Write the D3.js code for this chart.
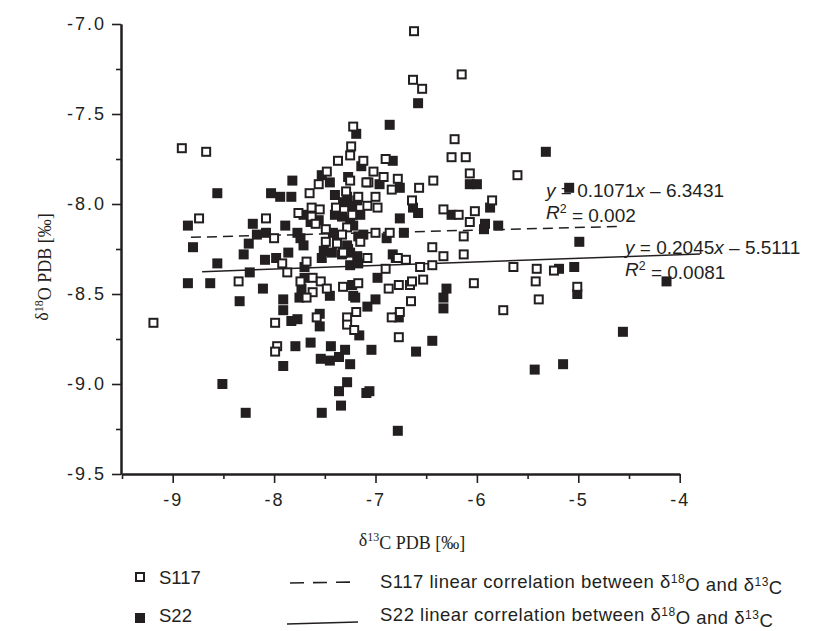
<!DOCTYPE html>
<html>
<head>
<meta charset="utf-8">
<script src="https://cdn.jsdelivr.net/npm/d3@7"></script>
<style>
  html, body { margin: 0; padding: 0; background: #fff; }
  svg { display: block; }
  .tick text { font-family: "Liberation Sans", Arial, sans-serif; }
</style>
</head>
<body>
<svg id="chart" width="820" height="631"></svg>
<script>
// ---------------- DATA ----------------
// S117 (open squares): [δ13C, δ18O]
const s117Points = [
  [-8.91,-7.69],[-8.67,-7.71],[-8.74,-8.08],[-9.19,-8.66],[-8.35,-8.43],[-8.08,-8.08],[-8.00,-8.19],
  [-6.62,-7.04],[-6.63,-7.31],[-6.54,-7.36],[-6.15,-7.28],
  [-7.22,-7.57],[-7.24,-7.68],[-7.25,-7.73],[-7.37,-7.76],[-7.12,-7.76],[-7.02,-7.82],[-7.07,-7.88],
  [-7.48,-7.82],[-7.56,-7.89],[-7.25,-7.87],[-7.65,-7.94],[-7.29,-7.93],[-7.17,-7.96],[-7.00,-7.96],
  [-6.98,-8.02],[-7.39,-8.02],[-7.63,-8.02],[-7.55,-8.03],[-7.76,-8.05],[-7.63,-8.07],[-7.08,-8.01],
  [-7.23,-8.06],[-7.59,-8.11],[-7.28,-8.13],[-7.49,-8.14],[-7.33,-8.17],[-7.00,-8.16],[-7.49,-8.21],
  [-7.38,-8.22],[-7.15,-8.21],
  [-6.22,-7.64],[-6.25,-7.74],[-6.11,-7.74],[-6.90,-7.75],[-6.92,-7.85],[-6.78,-7.86],[-6.43,-7.87],
  [-6.57,-7.91],[-6.07,-7.83],[-5.60,-7.84],[-6.84,-7.92],[-6.64,-7.98],[-6.33,-8.03],[-6.18,-8.06],
  [-6.02,-8.04],[-6.07,-8.10],[-5.85,-7.98],[-6.13,-8.18],[-6.44,-8.24],[-6.86,-8.16],[-7.09,-7.88],
  [-7.92,-8.33],[-7.87,-8.38],[-7.68,-8.32],[-7.74,-8.43],[-7.62,-8.41],[-7.54,-8.43],[-7.48,-8.47],
  [-7.62,-8.49],[-7.68,-8.52],[-7.08,-8.30],[-7.32,-8.46],[-7.17,-8.44],[-7.99,-8.66],[-7.58,-8.63],
  [-7.19,-8.60],[-7.28,-8.63],[-7.28,-8.67],[-7.21,-8.70],[-7.97,-8.79],[-7.99,-8.82],
  [-6.70,-8.31],[-6.78,-8.30],[-6.33,-8.29],[-6.13,-8.28],[-6.90,-8.36],[-6.56,-8.35],[-6.44,-8.34],
  [-6.87,-8.47],[-6.77,-8.45],[-6.66,-8.45],[-6.64,-8.43],[-6.53,-8.42],[-6.03,-8.44],[-6.65,-8.54],
  [-6.76,-8.60],[-6.84,-8.63],[-5.74,-8.59],[-6.77,-8.74],
  [-5.64,-8.35],[-5.41,-8.36],[-5.24,-8.37],[-5.42,-8.43],[-5.39,-8.53],[-5.01,-8.46],[-7.32,-8.27]
];
// S22 (filled squares): [δ13C, δ18O]
const s22Points = [
  [-8.56,-7.94],[-8.85,-8.12],[-7.82,-7.87],[-8.03,-7.94],[-7.94,-7.96],[-7.83,-7.96],[-8.21,-8.11],
  [-7.89,-8.12],[-8.17,-8.17],[-8.08,-8.16],[-8.25,-8.22],[-7.77,-8.16],[-7.74,-8.19],[-7.71,-8.23],
  [-7.19,-7.61],[-7.14,-7.79],[-7.53,-7.84],[-7.45,-7.88],[-7.27,-7.85],[-7.40,-7.95],[-7.28,-7.96],
  [-7.32,-7.99],[-7.23,-8.01],[-7.18,-7.98],[-7.71,-8.06],[-7.64,-8.10],[-7.40,-8.06],[-7.33,-8.07],
  [-7.25,-8.09],[-7.15,-8.06],[-7.56,-8.09],[-7.22,-8.12],[-7.42,-8.16],[-7.38,-8.18],[-7.17,-8.18],
  [-7.12,-8.17],[-7.28,-8.23],
  [-6.58,-7.44],[-6.86,-7.56],[-6.83,-7.76],[-5.32,-7.71],[-4.99,-8.21],[-5.09,-7.91],[-6.76,-7.91],
  [-6.96,-7.89],[-6.07,-7.89],[-6.00,-7.89],[-6.63,-8.02],[-6.58,-8.05],[-6.25,-8.06],[-5.87,-8.02],
  [-5.92,-8.11],[-5.93,-8.14],[-5.79,-8.12],[-6.76,-8.08],[-6.72,-8.16],[-6.89,-8.19],
  [-8.80,-8.24],[-8.56,-8.33],[-8.85,-8.44],[-8.63,-8.44],[-8.34,-8.54],[-8.51,-9.00],[-8.28,-9.16],
  [-8.24,-8.38],[-8.09,-8.31],[-7.98,-8.30],[-7.86,-8.27],[-8.30,-8.28],[-8.11,-8.47],[-7.91,-8.53],
  [-7.91,-8.59],[-7.83,-8.65],[-7.77,-8.64],[-7.91,-8.90],[-7.79,-8.79],[-7.64,-8.77],[-7.54,-8.86],
  [-7.45,-8.87],[-7.44,-8.79],[-7.36,-8.85],[-7.30,-8.81],[-7.25,-8.89],[-7.28,-8.99],[-7.36,-9.04],
  [-7.34,-9.12],[-7.53,-9.16],[-7.55,-8.61],[-7.55,-8.68],[-7.70,-8.35],[-7.70,-8.41],[-7.73,-8.47],
  [-7.75,-8.52],[-7.45,-8.51],
  [-7.51,-8.26],[-7.43,-8.27],[-7.53,-8.30],[-7.25,-8.27],[-7.18,-8.29],[-7.25,-8.34],[-7.17,-8.33],
  [-6.98,-8.41],[-7.23,-8.45],[-7.22,-8.51],[-7.20,-8.52],[-7.00,-8.53],[-7.08,-8.57],[-7.16,-8.73],
  [-7.04,-8.81],[-7.09,-9.05],[-7.06,-9.04],[-6.83,-8.28],[-6.80,-8.30],[-6.30,-8.47],[-6.33,-8.52],
  [-6.33,-8.58],[-6.77,-8.63],[-6.44,-8.76],[-6.60,-8.82],[-6.78,-9.26],[-5.43,-8.92],[-5.15,-8.89],
  [-5.19,-8.36],[-5.04,-8.35],[-5.01,-8.50],[-4.13,-8.43],[-4.56,-8.71],[-7.33,-8.28],[-7.27,-8.25]
];
// Trend lines as drawn (endpoints in data units)
const s117Trend = [[-8.82,-8.185],[-4.60,-8.125]];
const s22Trend  = [[-8.71,-8.376],[-3.80,-8.278]];
// Axis ticks
const xMajorTicks = [-9,-8,-7,-6,-5,-4];
const xMinorTicks = [-9.5,-8.5,-7.5,-6.5,-5.5,-4.5];
const yMajorTicks = [-9.5,-9.0,-8.5,-8.0,-7.5,-7.0];
const yMinorTicks = [-9.25,-8.75,-8.25,-7.75,-7.25];
// Annotations
const eqS117 = ["y", " = 0.1071", "x", " \u2013 6.3431"];
const r2S117 = "0.002";
const eqS22  = ["y", " = 0.2045", "x", " \u2013 5.5111"];
const r2S22  = "0.0081";

// ---------------- CHART ----------------
const svg = d3.select("#chart");
const ink = "#231f20";
const x = d3.scaleLinear().domain([-9.5, -4]).range([122, 679.7]);
const y = d3.scaleLinear().domain([-9.5, -7]).range([474, 24]);
const sans = '"Liberation Sans", Arial, Helvetica, sans-serif';
const serif = '"Liberation Serif", "Times New Roman", serif';

const fmtY = d => d.toFixed(1);
const fmtX = d => String(d);

svg.append("g").attr("transform", `translate(${x(-9.5) - 1},0)`)
  .call(d3.axisLeft(y).tickValues(yMajorTicks).tickSize(9).tickSizeOuter(0).tickPadding(6).tickFormat(fmtY));
svg.append("g").attr("transform", `translate(${x(-9.5) - 1},0)`)
  .call(d3.axisLeft(y).tickValues(yMinorTicks).tickSize(5).tickSizeOuter(0).tickFormat(""));
const xAx = svg.append("g").attr("transform", `translate(0,${y(-9.5)})`)
  .call(d3.axisBottom(x).tickValues(xMajorTicks).tickSize(9).tickSizeOuter(0).tickPadding(6).tickFormat(fmtX));
svg.append("g").attr("transform", `translate(0,${y(-9.5)})`)
  .call(d3.axisBottom(x).tickValues(xMinorTicks).tickSize(5).tickSizeOuter(0).tickFormat(""));

svg.selectAll(".domain").attr("stroke", ink).attr("stroke-width", 2);
svg.selectAll(".tick line").attr("stroke", ink).attr("stroke-width", 1.6);
svg.selectAll(".tick text")
  .attr("fill", ink)
  .style("font-family", sans)
  .style("font-size", "18px")
  .style("letter-spacing", "2px");
xAx.selectAll(".tick text").attr("dy", "0.95em");

// axis titles
const yTitle = svg.append("text")
  .attr("transform", `translate(48,267) rotate(-90)`)
  .attr("text-anchor", "middle")
  .style("font-family", serif).style("font-size", "18px").attr("fill", ink);
yTitle.append("tspan").text("\u03B4");
yTitle.append("tspan").attr("dy", "-0.45em").style("font-size", "12px").text("18");
yTitle.append("tspan").attr("dy", "0.45em").text("O PDB [\u2030]");

const xTitle = svg.append("text")
  .attr("x", 412).attr("y", 546)
  .attr("text-anchor", "middle")
  .style("font-family", serif).style("font-size", "18px").attr("fill", ink);
xTitle.append("tspan").text("\u03B4");
xTitle.append("tspan").attr("dy", "-0.45em").style("font-size", "12px").text("13");
xTitle.append("tspan").attr("dy", "0.45em").text("C PDB [\u2030]");

// equations (drawn beneath points)
function eq(xp, yp, parts, r2, fs) {
  const t = svg.append("text").attr("x", xp).attr("y", yp)
    .style("font-family", sans).style("font-size", fs + "px").attr("fill", ink);
  parts.forEach((p, i) => {
    const s = t.append("tspan").text(p);
    if (i === 0 || i === 2) s.style("font-style", "italic");
  });
  const r = svg.append("text").attr("x", xp).attr("y", yp + 22)
    .style("font-family", sans).style("font-size", fs + "px").attr("fill", ink);
  r.append("tspan").style("font-style", "italic").text("R");
  r.append("tspan").attr("dy", "-0.45em").style("font-size", (fs * 0.65) + "px").text("2");
  r.append("tspan").attr("dy", "0.45em").text(" = " + r2);
}
eq(546, 197, eqS117, r2S117, 19);
eq(625, 254, eqS22, r2S22, 19);

// trend lines
const line = d3.line().x(d => x(d[0])).y(d => y(d[1]));
svg.append("path").datum(s117Trend).attr("d", line)
  .attr("fill", "none").attr("stroke", ink).attr("stroke-width", 1.5).attr("stroke-dasharray", "10,6");
svg.append("path").datum(s22Trend).attr("d", line)
  .attr("fill", "none").attr("stroke", ink).attr("stroke-width", 1.5);

// points
const S = 10;
svg.append("g").selectAll("rect").data(s22Points).join("rect")
  .attr("x", d => x(d[0]) - S / 2).attr("y", d => y(d[1]) - S / 2)
  .attr("width", S).attr("height", S).attr("fill", ink);
svg.append("g").selectAll("rect").data(s117Points).join("rect")
  .attr("x", d => x(d[0]) - (S - 2) / 2).attr("y", d => y(d[1]) - (S - 2) / 2)
  .attr("width", S - 2).attr("height", S - 2)
  .attr("fill", "#fff").attr("stroke", ink).attr("stroke-width", 2);

// legend
const lg = svg.append("g");
const lfs = 18.5;
lg.append("rect").attr("x", 136).attr("y", 573).attr("width", 8).attr("height", 8)
  .attr("fill", "#fff").attr("stroke", ink).attr("stroke-width", 2);
lg.append("text").attr("x", 159).attr("y", 584).text("S117")
  .style("font-family", sans).style("font-size", lfs + "px").attr("fill", ink);
lg.append("rect").attr("x", 135).attr("y", 613).attr("width", 10).attr("height", 10).attr("fill", ink);
lg.append("text").attr("x", 159).attr("y", 622).text("S22")
  .style("font-family", sans).style("font-size", lfs + "px").attr("fill", ink);

lg.append("line").attr("x1", 290).attr("x2", 355).attr("y1", 583).attr("y2", 582)
  .attr("stroke", ink).attr("stroke-width", 1.6).attr("stroke-dasharray", "14,9");
lg.append("line").attr("x1", 287).attr("x2", 358).attr("y1", 624).attr("y2", 622)
  .attr("stroke", ink).attr("stroke-width", 1.6);

function legText(yp, name) {
  const t = lg.append("text").attr("x", 380).attr("y", yp)
    .style("font-family", sans).style("font-size", lfs + "px")
    .style("letter-spacing", "0.5px").attr("fill", ink);
  t.append("tspan").text(name + " linear correlation between \u03B4");
  t.append("tspan").attr("dy", "-0.45em").style("font-size", "12px").text("18");
  t.append("tspan").attr("dy", "0.45em").text("O and \u03B4");
  t.append("tspan").attr("dy", "-0.45em").style("font-size", "12px").text("13");
  t.append("tspan").attr("dy", "0.45em").text("C");
}
legText(588, "S117");
legText(621, "S22");
</script>
</body>
</html>
